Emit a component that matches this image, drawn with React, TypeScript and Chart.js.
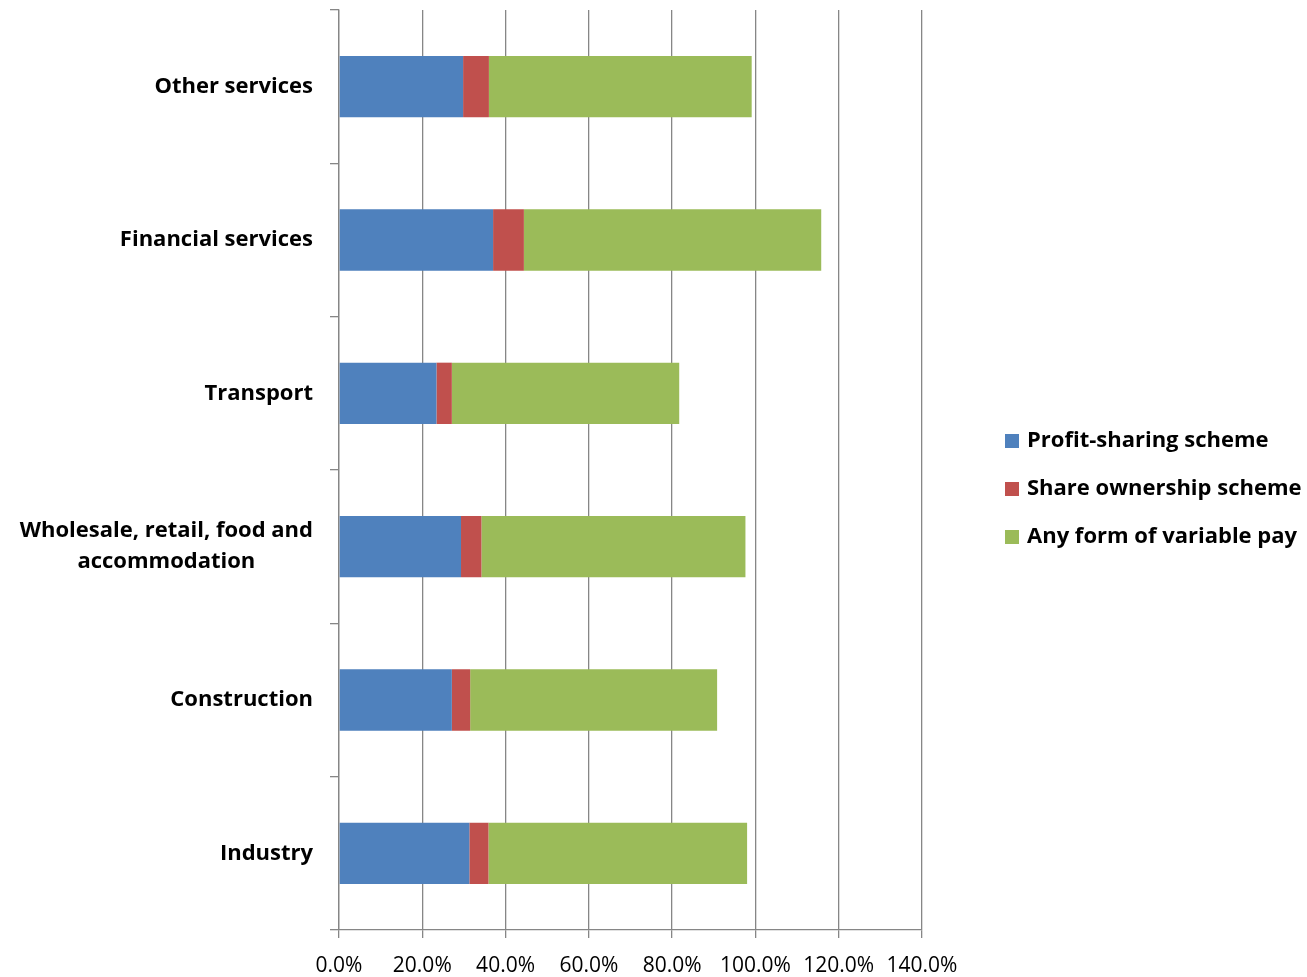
import React, { useEffect, useRef } from "react";
import { Chart, registerables } from "chart.js";

Chart.register(...registerables);

const categories: (string | string[])[] = [
  "Other services",
  "Financial services",
  "Transport",
  ["Wholesale, retail, food and", "accommodation"],
  "Construction",
  "Industry",
];
const profitSharing = [29.8, 37.0, 23.4, 29.3, 27.1, 31.3];
const shareOwnership = [6.2, 7.4, 3.7, 4.9, 4.4, 4.6];
const variablePay = [63.1, 71.4, 54.6, 63.4, 59.3, 62.1];
const seriesNames = ["Profit-sharing scheme", "Share ownership scheme", "Any form of variable pay"];
const seriesColors = ["#4F81BD", "#C0504D", "#9BBB59"];
const xTicks = [0, 20, 40, 60, 80, 100, 120, 140];

const FONT = "'Open Sans', Lato, sans-serif";
const GRID = "#868686";

const yLabelPlugin = {
  id: "yLabels",
  afterDraw(chart: any) {
    const ctx = chart.ctx;
    const y = chart.scales.y;
    const right = chart.chartArea.left - 26;
    ctx.save();
    ctx.font = `bold 22px ${FONT}`;
    ctx.fillStyle = "#000";
    ctx.textAlign = "center";
    ctx.textBaseline = "middle";
    const lh = 31;
    chart.data.labels.forEach((lab: any, i: number) => {
      const lines: string[] = Array.isArray(lab) ? lab : [lab];
      const widest = Math.max(...lines.map((l) => ctx.measureText(l).width));
      const cx = right - widest / 2;
      const py = y.getPixelForValue(i);
      const start = py - ((lines.length - 1) * lh) / 2;
      lines.forEach((l, k) => ctx.fillText(l, cx, start + k * lh));
    });
    ctx.restore();
  },
};

const legendPlugin = {
  id: "customLegend",
  afterDraw(chart: any) {
    const ctx = chart.ctx;
    ctx.save();
    ctx.font = `bold 22px ${FONT}`;
    ctx.textAlign = "left";
    ctx.textBaseline = "middle";
    chart.data.datasets.forEach((ds: any, i: number) => {
      const cy = 441 + i * 48;
      ctx.fillStyle = ds.backgroundColor;
      ctx.fillRect(1005, cy - 7, 14, 14);
      ctx.fillStyle = "#000";
      ctx.fillText(ds.label, 1027, cy);
    });
    ctx.restore();
  },
};

export default function App() {
  const ref = useRef<HTMLCanvasElement>(null);
  useEffect(() => {
    if (!ref.current) return;
    const data = [profitSharing, shareOwnership, variablePay];
    const chart = new Chart(ref.current, {
      type: "bar",
      data: {
        labels: categories as any,
        datasets: seriesNames.map((name, i) => ({
          label: name,
          data: data[i],
          backgroundColor: seriesColors[i],
          borderWidth: 0,
          barPercentage: 0.4,
          categoryPercentage: 1,
        })),
      },
      options: {
        indexAxis: "y",
        responsive: false,
        animation: false,
        layout: { padding: { top: 10, right: 385, left: 0, bottom: 0 } },
        plugins: { legend: { display: false }, tooltip: { enabled: false } },
        scales: {
          x: {
            stacked: true,
            min: 0,
            max: 140,
            afterBuildTicks: (s: any) => {
              s.ticks = xTicks.map((v) => ({ value: v }));
            },
            afterFit: (s: any) => {
              s.height = 47;
            },
            ticks: {
              callback: (v: any) => Number(v).toFixed(1) + "%",
              font: { family: FONT, size: 21 },
              color: "#000",
              padding: 15,
              maxRotation: 0,
              autoSkip: false,
            },
            grid: { color: GRID, lineWidth: 1.3, tickLength: 8 },
            border: { color: GRID, width: 1.3 },
          },
          y: {
            stacked: true,
            afterFit: (s: any) => {
              s.width = 339;
              s.paddingTop = 0;
              s.paddingBottom = 0;
            },
            ticks: { color: "transparent", font: { family: FONT, size: 4 } },
            grid: { color: GRID, lineWidth: 1.3, drawOnChartArea: false, tickLength: 9, offset: true },
            border: { color: GRID, width: 1.3 },
          },
        },
      },
      plugins: [yLabelPlugin, legendPlugin],
    });
    return () => chart.destroy();
  }, []);
  return (
    <div style={{ position: "absolute", left: 0, top: 0, width: 1307, height: 977, background: "#fff" }}>
      <canvas ref={ref} width={1307} height={977} />
    </div>
  );
}
